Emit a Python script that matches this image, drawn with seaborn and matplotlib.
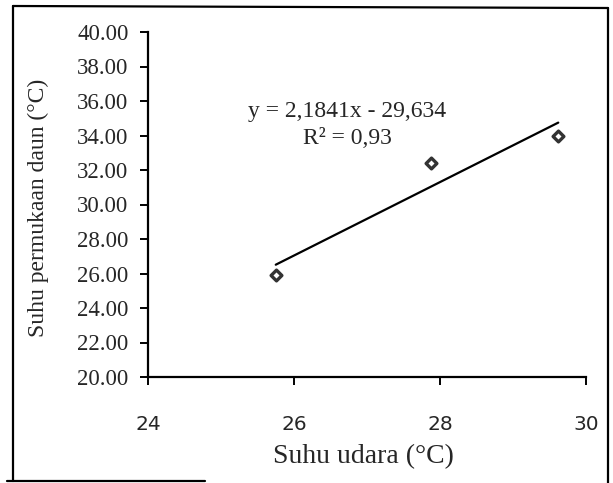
import matplotlib
matplotlib.use("Agg")
import matplotlib.pyplot as plt
import matplotlib.ticker as mticker
from matplotlib.lines import Line2D
import pandas as pd
import seaborn as sns

# data
suhu_udara = [25.75, 27.88, 29.62]
suhu_daun = [25.9, 32.4, 34.0]
x_ticks = [24, 26, 28, 30]
y_ticks = [20, 22, 24, 26, 28, 30, 32, 34, 36, 38, 40]
persamaan = "y = 2,1841x - 29,634"
r_kuadrat = "R² = 0,93"

df = pd.DataFrame({"udara": suhu_udara, "daun": suhu_daun})

sns.set_style("white")
plt.rcParams["font.family"] = ["Liberation Serif", "DejaVu Serif"]

fig = plt.figure(figsize=(6.13, 4.83), dpi=100)
ax = fig.add_axes([148 / 613, 1 - 377 / 483, 438 / 613, 345 / 483])

sns.regplot(data=df, x="udara", y="daun", ax=ax, ci=None, marker="D", color="black",
            scatter_kws=dict(s=30, facecolor="white", edgecolor="black", linewidths=2.4),
            line_kws=dict(color="black", lw=1.6))

ax.set_xlim(24, 30)
ax.set_ylim(20, 40)
ax.set_xticks(x_ticks)
ax.set_yticks(y_ticks)
ax.yaxis.set_major_formatter(mticker.FormatStrFormatter("%.2f"))

for s in ["top", "right"]:
    ax.spines[s].set_visible(False)
for s in ["left", "bottom"]:
    ax.spines[s].set_linewidth(1.6)
    ax.spines[s].set_color("black")

ax.tick_params(axis="y", left=True, direction="out", length=6, width=1.4, pad=8,
               labelsize=16.5, color="black")
ax.tick_params(axis="x", bottom=True, direction="out", length=6, width=1.4, pad=21,
               labelsize=14.5, color="black")
for lab in ax.get_xticklabels():
    lab.set_family("DejaVu Sans")

ax.set_xlabel("Suhu udara (°C)", fontsize=20)
ax.set_ylabel("Suhu permukaan daun (°C)", fontsize=17)
ax.xaxis.set_label_coords(0.492, -0.195)
ax.yaxis.set_label_coords(-0.226, 0.49)

ax.text(26.73, 35.42, persamaan, ha="center", va="center", fontsize=17)
ax.text(26.73, 33.8, r_kuadrat, ha="center", va="center", fontsize=17)

# scanned frame around the figure
kw = dict(color="black", lw=1.6, transform=fig.transFigure)
fig.add_artist(Line2D([13 / 613, 13 / 613], [1 - 6 / 483, 1 - 481 / 483], **kw))
fig.add_artist(Line2D([13 / 613, 608 / 613], [1 - 6 / 483, 1 - 8 / 483], **kw))
fig.add_artist(Line2D([608 / 613, 608 / 613], [1 - 8 / 483, 0.0], **kw))
fig.add_artist(Line2D([7 / 613, 205 / 613], [1 - 481 / 483, 1 - 481 / 483], **kw))

fig.savefig("out.png", dpi=100)
